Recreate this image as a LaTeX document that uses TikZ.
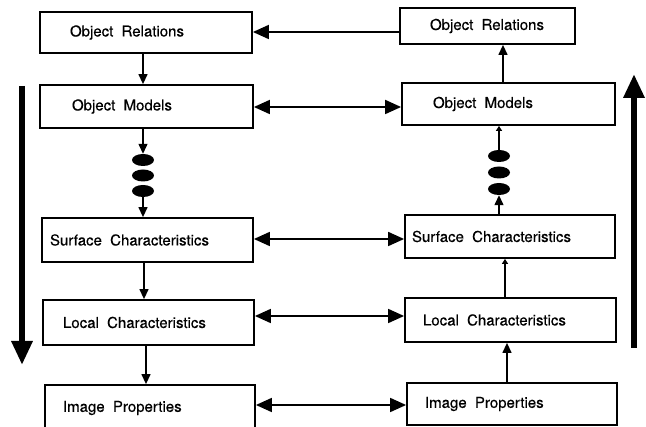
\documentclass[tikz,border=0pt]{standalone}
\usepackage{fontspec}
\setmainfont[FakeBold=0.4]{TeX Gyre Heros}
\usetikzlibrary{arrows.meta,calc,shapes.geometric}
\newcommand\wgap{\hspace{0.55em}}
\tikzset{
  box/.style={draw, line width=1.8pt, rectangle, align=left, anchor=center,
    font=\fontsize{15}{18}\selectfont, inner ysep=0pt},
  dotnode/.style={ellipse, fill=black, minimum width=22pt, minimum height=12pt, inner sep=0pt},
  link/.style={line width=1.3pt, -{Triangle[width=9pt,length=10pt]}},
  tinylink/.style={line width=1.3pt, -{Triangle[width=6pt,length=5pt]}},
  hlink/.style={line width=1.8pt, {Triangle[width=14pt,length=16pt]}-{Triangle[width=14pt,length=16pt]}},
  hlinkone/.style={line width=1.8pt, -{Triangle[width=14pt,length=16pt]}},
  bigarrow/.style={line width=6pt, -{Triangle[width=20pt,length=24pt]}}
}
\begin{document}
\begin{tikzpicture}[x=1pt,y=-1pt]
\useasboundingbox (0,0) rectangle (646,427);
\clip (0,0) rectangle (646,427);
% left column
\node[box, minimum height=41pt, text width=152pt, inner xsep=30pt] (lor) at (146,32.5) {Object\wgap Relations};
\node[box, minimum height=43pt, text width=149pt, inner xsep=32pt] (lom) at (146.5,106.5) {Object\wgap Models};
\node[box, minimum height=44pt, text width=195pt, inner xsep=8pt] (lsc) at (147.5,240) {Surface\wgap Characteristics};
\node[box, minimum height=45pt, text width=171pt, inner xsep=20pt] (llc) at (148.5,322.5) {Local\wgap Characteristics};
\node[box, minimum height=46pt, text width=174pt, inner xsep=18pt] (lip) at (150,408) {Image\wgap Properties};
% right column
\node[box, minimum height=36pt, text width=115pt, inner xsep=30pt] (ror) at (487.5,26) {\raisebox{-3pt}{Object\wgap Relations}};
\node[box, minimum height=42pt, text width=151pt, inner xsep=31pt] (rom) at (508.5,104) {Object\wgap Models};
\node[box, minimum height=43pt, text width=196pt, inner xsep=7pt] (rsc) at (510,236.5) {Surface\wgap Characteristics};
\node[box, minimum height=44pt, text width=175pt, inner xsep=18pt] (rlc) at (510.5,320) {Local\wgap Characteristics};
\node[box, minimum height=42pt, text width=174pt, inner xsep=18pt] (rip) at (512,404) {Image\wgap Properties};
% dots
\node[dotnode] (ld1) at (143,160) {};
\node[dotnode] (ld2) at (143,175.5) {};
\node[dotnode] (ld3) at (143,191) {};
\node[dotnode] (rd1) at (499,156) {};
\node[dotnode] (rd2) at (499,172.5) {};
\node[dotnode] (rd3) at (499,189) {};
% left vertical links
\draw[link] (ld1 |- lor.south) -- (ld1 |- lom.north);
\draw[link] (ld1 |- lom.south) -- (ld1.north);
\draw[link] (ld3.south) -- (ld3 |- lsc.north);
\draw[link] ([xshift=1pt]ld3 |- lsc.south) -- ([xshift=1pt]ld3 |- llc.north);
\draw[link] ([xshift=3pt]ld3 |- llc.south) -- ([xshift=3pt]ld3 |- lip.north);
% right vertical links
\draw[link] ([xshift=4pt]rd1 |- rom.north) -- ([xshift=4pt]rd1 |- ror.south);
\draw[tinylink] (rd1.north) -- (rd1 |- rom.south);
\draw[link] (rd3 |- rsc.north) -- (rd3.south);
\draw[tinylink] ([xshift=6pt]rd3 |- rlc.north) -- ([xshift=6pt]rd3 |- rsc.south);
\draw[link] ([xshift=8pt]rd3 |- rip.north) -- ([xshift=8pt]rd3 |- rlc.south);
% horizontal links
\draw[hlinkone] (ror.west |- 0,32) -- (lor.east |- 0,32);
\draw[hlink] (lom.east |- 0,107) -- (rom.west |- 0,107);
\draw[hlink] (lsc.east |- 0,239) -- (rsc.west |- 0,239);
\draw[hlink] (llc.east |- 0,316) -- (rlc.west |- 0,316);
\draw[hlink] (lip.east |- 0,405) -- (rip.west |- 0,405);
% big arrows
\coordinate (lbig1) at (22,86);
\coordinate (lbig2) at (22,365);
\coordinate (rbig1) at (634,348);
\coordinate (rbig2) at (634,74);
\draw[bigarrow] (lbig1) -- (lbig2);
\draw[bigarrow] (rbig1) -- (rbig2);
\end{tikzpicture}
\end{document}
